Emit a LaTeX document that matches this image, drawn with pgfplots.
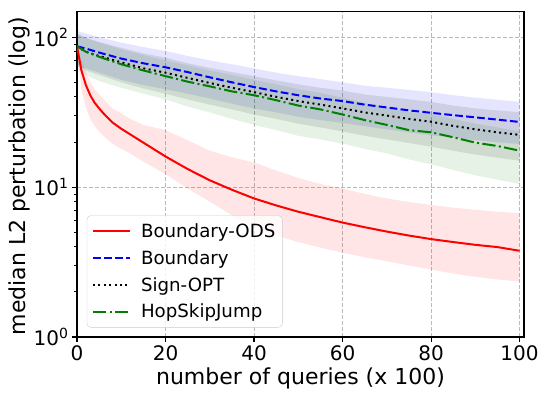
\documentclass[border=0pt]{standalone}
\usepackage{fontspec}
\setmainfont{DejaVu Sans}
\usepackage{pgfplots}
\usepackage{pgfplotstable}
\pgfplotsset{compat=1.18}
\usepgfplotslibrary{fillbetween}

% x  median  lower  upper
\pgfplotstableread{
x   med   lo    hi
0   87    84    90
1   60    45    70
2   48    34    58
3   41    28.5  50
4   36.5  25.5  45
5   33.5  23.5  41.5
6   31    22    38.5
8   27    19.5  33.5
10  24.5  18    31
12  22.5  16.8  28.5
15  19.8  14.8  26
20  16    12.2  24
25  13.2  9.8   20.5
30  11.1  8.0   17.5
35  9.6   6.5   15.8
40  8.4   5.3   14.6
45  7.55  4.75  12.9
50  6.85  4.3   11.5
55  6.3   3.95  10.5
60  5.8   3.65  9.8
65  5.4   3.4   9.0
70  5.05  3.2   8.4
75  4.75  3.0   7.95
80  4.5   2.82  7.6
85  4.3   2.65  7.3
90  4.12  2.52  7.05
95  3.98  2.42  6.85
100 3.76  2.34  6.7
}\ods

\pgfplotstableread{
x   med   lo    hi
0   87    64    110
2   84    62    106
5   79    58    100
10  72    52    92
15  67    48    86
20  63    45    81
25  58.5  42    75
30  54    39    70
35  50    36    66
40  46.5  33.5  62
45  43.5  31.5  58
50  41    29.5  55
55  39    28    52.5
60  37.5  26.8  50
65  35.5  25.5  47.5
70  34    24.3  46
75  32.5  23.2  44.5
80  31.3  22.2  43
85  30.2  21.4  41
90  29.2  20.6  39.5
95  28.2  19.9  38.3
100 27.2  19.4  37
}\bnd

\pgfplotstableread{
x   med   lo    hi
0   87    66    106
2   80    60    99
5   75    56    93
10  68    50    85
15  62    45.5  78
20  58    42    73
25  53.5  38.5  67
30  49.5  35.5  62.5
35  46    33    58.5
40  43    30.5  55
45  40    28.5  51.5
50  37.5  26.5  48.5
55  35.5  25    46
60  33.5  23.5  44
65  31.5  22    41.5
70  30    20.8  40
75  28.5  19.7  38.5
80  27.3  18.6  37
85  25.6  17.5  35
90  24.3  16.5  33.5
95  23.2  15.7  32.5
100 22.3  15    31.6
}\sopt

\pgfplotstableread{
x   med   lo    hi
0   87    62    105
2   80    56    99
5   74    51    92
10  66    46    83
15  60    42    76
20  55    38.5  70
25  50.5  34.5  65
30  47    31.5  60
35  43.5  28.5  56
40  41    26    52
45  38    24    48.5
50  35    22    45
55  33    20.8  42.5
60  30.5  19.5  39.5
65  28    18    36.5
70  26    16.8  34
75  24    15.3  31.8
80  23.2  14.2  30.5
85  21.5  13    28.5
90  19.8  12    26.5
95  18.8  11.2  25
100 17.5  10.5  23.5
}\hsj

\definecolor{mplgreen}{rgb}{0,0.5,0}

\begin{document}
\begin{tikzpicture}
\begin{axis}[
    scale only axis,
    width=447pt, height=325.3pt,
    ymode=log,
    xmin=0, xmax=101,
    ymin=1, ymax=148,
    xtick={0,20,40,60,80,100},
    ytick={1,10,100},
    yticklabels={10\textsuperscript{0},10\textsuperscript{1},10\textsuperscript{2}},
    /pgf/number format/assume math mode=true,
    tick align=outside,
    tick pos=left,
    major tick length=4.9pt,
    minor tick length=2.8pt,
    every major tick/.style={line width=1.1pt, black},
    every minor tick/.style={line width=0.8pt, black},
    axis line style={line width=1.1pt},
    ticklabel style={font=\fontsize{20}{24}\selectfont},
    grid=major,
    major grid style={gray!55, line width=0.9pt, dash pattern=on 4pt off 2pt},
    xlabel={number of queries (x 100)},
    ylabel={median L2 perturbation (log)},
    label style={font=\fontsize{22}{26}\selectfont},
    xlabel style={at={(axis description cs:0.5,-0.126)}, anchor=center},
    ylabel style={at={(axis description cs:-0.1298,0.494)}, anchor=center},
    legend cell align=left,
    legend image code/.code={\draw[#1] (0pt,0pt) -- (37pt,0pt);},
    legend style={at={(0.022,0.029)}, anchor=south west,
        font=\fontsize{18.2}{21}\selectfont,
        draw=black!20, rounded corners=4pt, fill=white, fill opacity=0.8,
        text opacity=1, inner xsep=5pt, inner ysep=6pt, row sep=7.5pt,
        /tikz/every odd column/.append style={column sep=8pt}},
]
% bands
\addplot[draw=none, name path=ru, forget plot] table[x=x, y=hi] {\ods};
\addplot[draw=none, name path=rl, forget plot] table[x=x, y=lo] {\ods};
\addplot[red, fill opacity=0.1, draw=none, forget plot] fill between[of=ru and rl];
\addplot[draw=none, name path=bu, forget plot] table[x=x, y=hi] {\bnd};
\addplot[draw=none, name path=bl, forget plot] table[x=x, y=lo] {\bnd};
\addplot[blue, fill opacity=0.1, draw=none, forget plot] fill between[of=bu and bl];
\addplot[draw=none, name path=ku, forget plot] table[x=x, y=hi] {\sopt};
\addplot[draw=none, name path=kl, forget plot] table[x=x, y=lo] {\sopt};
\addplot[black, fill opacity=0.1, draw=none, forget plot] fill between[of=ku and kl];
\addplot[draw=none, name path=gu, forget plot] table[x=x, y=hi] {\hsj};
\addplot[draw=none, name path=gl, forget plot] table[x=x, y=lo] {\hsj};
\addplot[mplgreen, fill opacity=0.1, draw=none, forget plot] fill between[of=gu and gl];
% medians
\addplot[red, line width=2pt, no marks] table[x=x, y=med] {\ods};
\addplot[blue, line width=2pt, no marks, dash pattern=on 7.7pt off 3.3pt] table[x=x, y=med] {\bnd};
\addplot[black, line width=2pt, no marks, dash pattern=on 2pt off 3.4pt] table[x=x, y=med] {\sopt};
\addplot[mplgreen, line width=2pt, no marks, dash pattern=on 13.3pt off 3.3pt on 2.1pt off 3.3pt] table[x=x, y=med] {\hsj};
\legend{Boundary-ODS, Boundary, Sign-OPT, HopSkipJump}
\end{axis}
\pgfresetboundingbox
\path[use as bounding box] ([xshift=-77pt,yshift=-58pt]current axis.south west) rectangle ([xshift=23pt,yshift=11.7pt]current axis.north east);
\end{tikzpicture}
\end{document}
